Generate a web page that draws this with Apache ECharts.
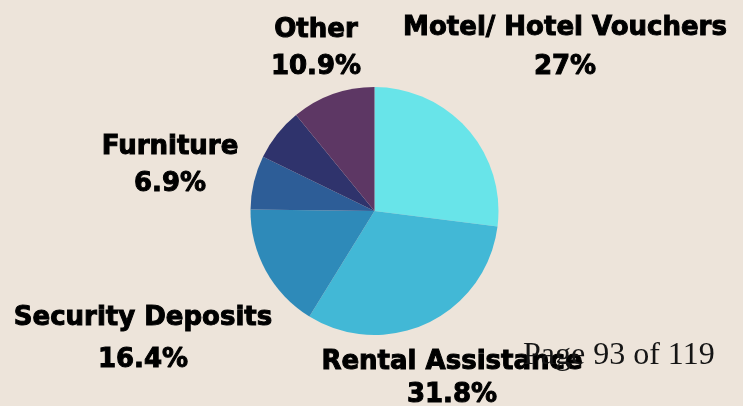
<!DOCTYPE html>
<html>
<head>
<meta charset="utf-8">
<script src="https://cdn.jsdelivr.net/npm/echarts@6/dist/echarts.min.js"></script>
<style>
  html, body { margin: 0; padding: 0; background: #ede4da; }
  #chart { width: 743px; height: 406px; }
</style>
</head>
<body>
<div id="chart"></div>
<script>
// Spending categories, clockwise from 12 o'clock
const categories = ['Motel/ Hotel Vouchers', 'Rental Assistance', 'Security Deposits', '', 'Furniture', 'Other'];
const shares = [27, 31.8, 16.4, 7.0, 6.9, 10.9];
const sliceColors = ['#68e4e9', '#42b8d6', '#2e8ab9', '#2d5d97', '#2f336c', '#5d3764'];

// Label block centres and line spacing for each slice
const labelSpots = [
  { x: 565, y: 47.5, lh: 39 },
  { x: 452, y: 378.5, lh: 33 },
  { x: 143, y: 339, lh: 42 },
  null,
  { x: 170, y: 165.5, lh: 37 },
  { x: 316, y: 48.5, lh: 37 }
];

const chart = echarts.init(document.getElementById('chart'));

const data = categories.map((name, i) => ({
  name: name,
  value: shares[i],
  itemStyle: { color: sliceColors[i] },
  label: labelSpots[i]
    ? { show: true, lineHeight: labelSpots[i].lh }
    : { show: false }
}));

chart.setOption({
  backgroundColor: '#ede4da',
  animation: false,
  series: [{
    type: 'pie',
    center: [374.5, 211],
    radius: 124,
    startAngle: 90,
    clockwise: true,
    avoidLabelOverlap: false,
    itemStyle: { borderWidth: 0 },
    labelLine: { show: false },
    label: {
      position: 'outside',
      formatter: p => p.name + '\n' + p.value + '%',
      color: '#000',
      fontFamily: '"DejaVu Sans", sans-serif',
      fontWeight: 'bold',
      fontSize: 26,
      textBorderColor: '#000',
      textBorderWidth: 1,
      align: 'center'
    },
    labelLayout: params => {
      const s = labelSpots[params.dataIndex];
      if (!s) return {};
      return { x: s.x, y: s.y, align: 'center', verticalAlign: 'middle' };
    },
    data: data
  }],
  graphic: [{
    type: 'text',
    z: 100,
    left: 523,
    top: 340,
    style: {
      text: 'Page 93 of 119',
      fill: '#151515',
      font: '32px "Liberation Serif", serif'
    }
  }]
});
</script>
</body>
</html>
